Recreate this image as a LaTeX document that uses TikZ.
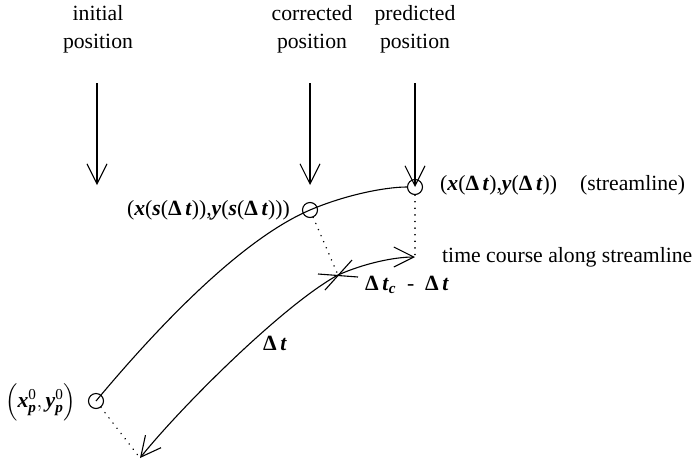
\documentclass[tikz,border=0pt]{standalone}
\usepackage{fontspec}
\usepackage{amsmath}
\setmainfont{Liberation Serif}
\usetikzlibrary{arrows.meta}
\newcommand\bi[1]{\textbf{\textit{#1}}}
\newcommand\Dl{\textbf{Δ}}
\begin{document}
\begin{tikzpicture}[x=1pt,y=-1pt,
  every node/.style={inner sep=0pt,font=\fontsize{21.7}{28}\selectfont},
  line/.style={line width=1.1pt},
  vtip/.tip={Straight Barb[length=20pt,width=20pt,line width=1.1pt]},
  arr/.style={line width=1.1pt,-vtip},
  dots/.style={line width=1.6pt,dash pattern=on 0.1pt off 6.5pt,line cap=round},
  ring/.style={circle,draw,line width=1.1pt,minimum size=15pt}]
\useasboundingbox (0,0) rectangle (695,461);
% top labels
\node[align=center] (tini) at (98,29) {initial\\position};
\node[align=center] (tcor) at (312,29) {corrected\\position};
\node[align=center] (tpre) at (415,29) {predicted\\position};
% circles
\node[ring] (ini) at (96,401) {};
\node[ring] (cor) at (310,210) {};
\node[ring] (pre) at (415,187) {};
% vertical arrows
\coordinate (a1s) at (97,83);  \coordinate (a1e) at (97,185);
\coordinate (a2s) at (310,83); \coordinate (a2e) at (310,185);
\coordinate (a3s) at (415,83);
\draw[arr] (a1s) -- (a1e);
\draw[arr] (a2s) -- (a2e);
\draw[arr] (a3s) -- (pre.center);
% streamline
\draw[line] (ini.center) .. controls (156,329) and (240,240) .. (cor.center)
  .. controls (345,195) and (385,187) .. (pre.west);
% time course
\coordinate (bt) at (140,458);
\coordinate (cr) at (338,275);
\coordinate (rt) at (415,257);
\draw[line,vtip-vtip]
  (bt) .. controls (180,408) and (283,305) .. (cr) .. controls (365,263) and (395,257) .. (rt);
% cross mark
\draw[line] ([shift={(-20,-1)}]cr) -- ([shift={(20,2)}]cr);
\draw[line] ([shift={(-13,15)}]cr) -- ([shift={(14,-15)}]cr);
% dotted lines
\draw[dots] (cor) -- (cr);
\draw[dots] (pre) -- (rt);
\draw[dots] (ini) -- (bt);
% labels
\node[anchor=west] (lpre) at (440,185) {(\bi{x}(\Dl\,\bi{t}),\bi{y}(\Dl\,\bi{t}))};
\node[anchor=west] (lstr) at (580,185) {(streamline)};
\node[anchor=east] (lcor) at (290,210) {(\bi{x}(\bi{s}(\Dl\,\bi{t})),\bi{y}(\bi{s}(\Dl\,\bi{t})))};
\node[anchor=west] (ltc) at (442,257) {time course along streamline};
\node[anchor=west] (ldc) at (365,285) {\Dl\,\bi{t}\textsubscript{\bi{c}}\enspace-\enspace\Dl\,\bi{t}};
\node (ldt) at (275,343) {\Dl\,\bi{t}};
\node[anchor=west] (lini) at (5,402) {$\left(\bi{x}^{\text{0}}_{\bi{p}},\bi{y}^{\text{0}}_{\bi{p}}\right)$};
\end{tikzpicture}
\end{document}
